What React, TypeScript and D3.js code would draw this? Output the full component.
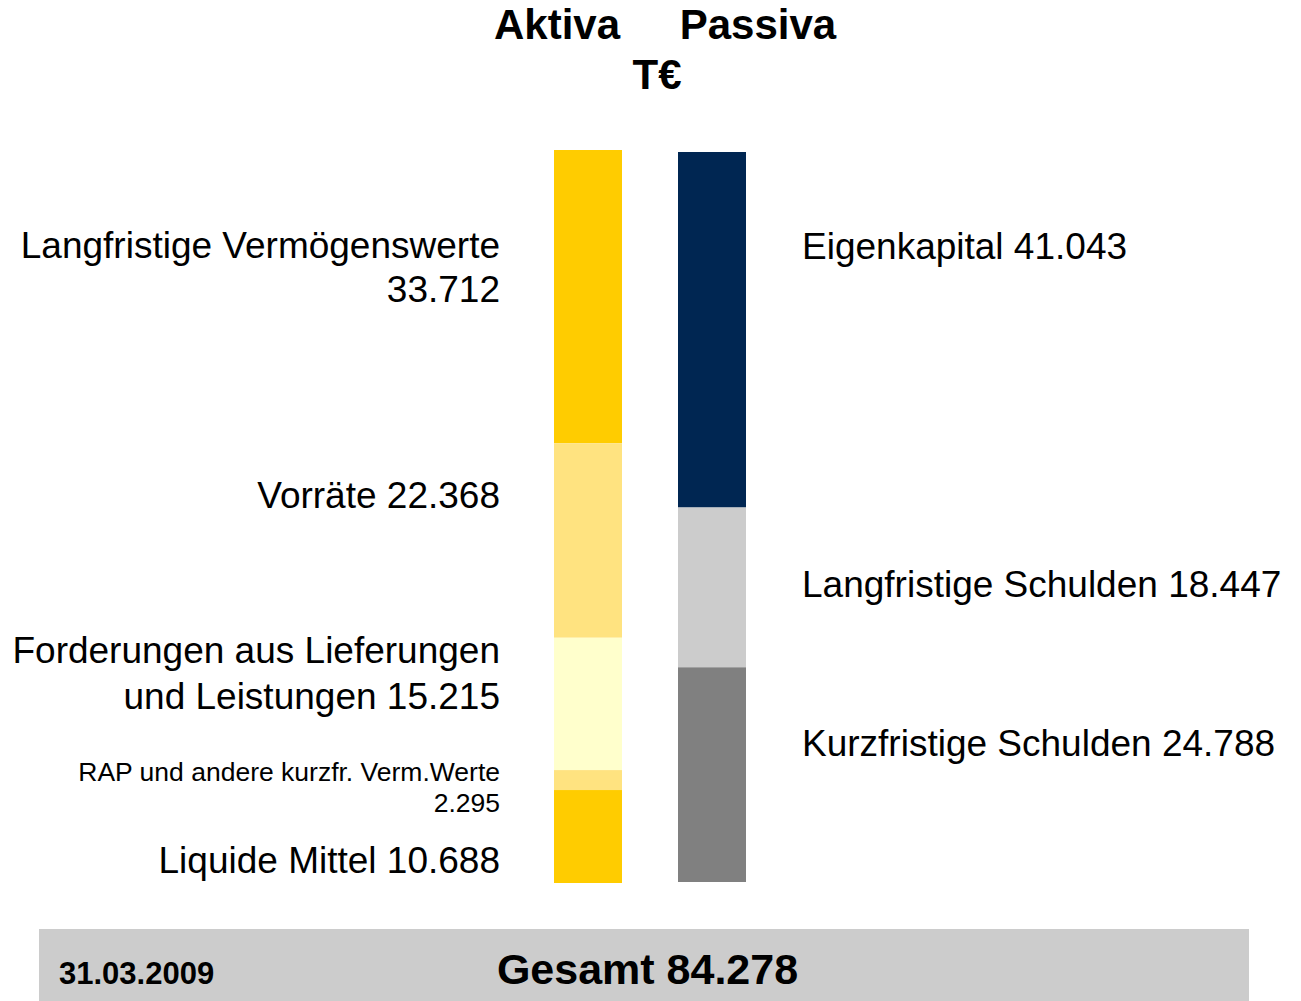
import React from 'react';
import * as d3 from 'd3';

// T€ values, top segment first
const aktivaLabels = [
  ['Langfristige Vermögenswerte', '33.712'],
  ['Vorräte 22.368'],
  ['Forderungen aus Lieferungen', 'und Leistungen 15.215'],
  ['RAP und andere kurzfr. Verm.Werte', '2.295'],
  ['Liquide Mittel 10.688'],
];
const aktivaValues = [33.712, 22.368, 15.215, 2.295, 10.688];
const aktivaColors = ['#FFCC00', '#FFE380', '#FFFFCC', '#FFE380', '#FFCC00'];

const passivaLabels = [
  'Eigenkapital 41.043',
  'Langfristige Schulden 18.447',
  'Kurzfristige Schulden 24.788',
];
const passivaValues = [41.043, 18.447, 24.788];
const passivaColors = ['#002652', '#CCCCCC', '#808080'];

const total = 84.278;
const dateLabel = '31.03.2009';

// label baselines (first line) and font sizes
const aktivaLabelY = [258, 508, 663, 781, 873];
const aktivaFont = [37, 37, 37, 26.5, 37];
const aktivaLineGap = [44, 0, 46, 31, 0];
const passivaLabelY = [259, 597, 756];

const FONT = '"Liberation Sans", Arial, sans-serif';

const stackIt = (vals: number[]) => {
  let acc = 0;
  return vals.map(v => {
    const s = { y0: acc, y1: acc + v };
    acc += v;
    return s;
  });
};

export default function App() {
  const yA = d3.scaleLinear().domain([0, total]).range([150, 883]);
  const yP = d3.scaleLinear().domain([0, total]).range([152, 882]);
  const aStack = stackIt(aktivaValues);
  const pStack = stackIt(passivaValues);

  return (
    <svg width={1301} height={1001} style={{ position: 'absolute', left: 0, top: 0 }}>
      <rect width={1301} height={1001} fill="#fff" />
      <text x={557} y={39} textAnchor="middle" fontFamily={FONT} fontWeight="bold" fontSize={42}>Aktiva</text>
      <text x={758} y={39} textAnchor="middle" fontFamily={FONT} fontWeight="bold" fontSize={42}>Passiva</text>
      <text x={657} y={89} textAnchor="middle" fontFamily={FONT} fontWeight="bold" fontSize={42}>T€</text>

      {aStack.map((s, i) => (
        <rect key={'a' + i} x={554} width={68} y={yA(s.y0)} height={yA(s.y1) - yA(s.y0)} fill={aktivaColors[i]} />
      ))}
      {pStack.map((s, i) => (
        <rect key={'p' + i} x={678} width={68} y={yP(s.y0)} height={yP(s.y1) - yP(s.y0)} fill={passivaColors[i]} />
      ))}

      {aktivaLabels.map((lines, i) => (
        <text key={'al' + i} x={500} y={aktivaLabelY[i]} textAnchor="end" fontFamily={FONT} fontSize={aktivaFont[i]} fill="#000">
          {lines.map((l, j) => (
            <tspan key={j} x={500} dy={j === 0 ? 0 : aktivaLineGap[i]}>{l}</tspan>
          ))}
        </text>
      ))}
      {passivaLabels.map((l, i) => (
        <text key={'pl' + i} x={802} y={passivaLabelY[i]} fontFamily={FONT} fontSize={37} fill="#000">{l}</text>
      ))}

      <rect x={39} y={929} width={1210} height={72} fill="#CCCCCC" />
      <text x={59} y={984} fontFamily={FONT} fontWeight="bold" fontSize={31}>{dateLabel}</text>
      <text x={647.5} y={984} textAnchor="middle" fontFamily={FONT} fontWeight="bold" fontSize={43}>
        Gesamt 84.278
      </text>
    </svg>
  );
}
